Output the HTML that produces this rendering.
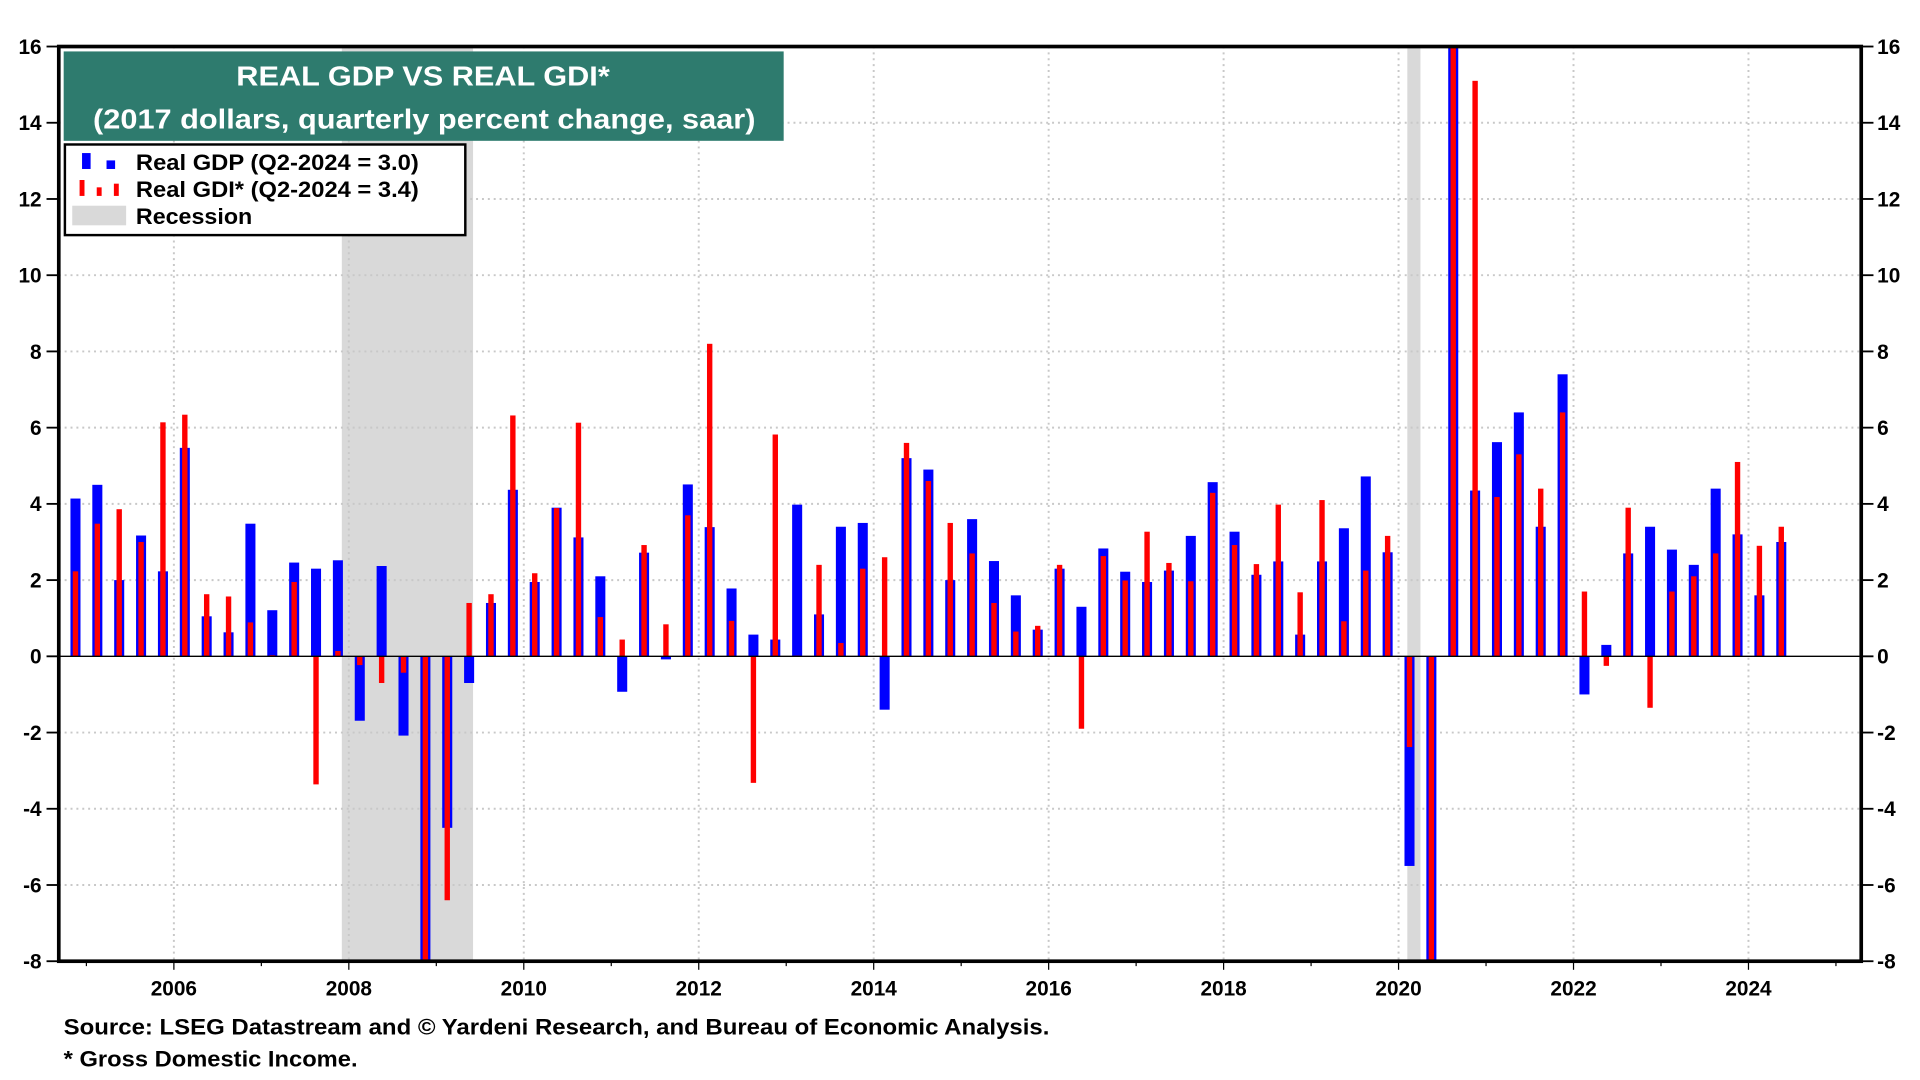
<!DOCTYPE html>
<html><head><meta charset="utf-8"><title>Real GDP vs Real GDI</title>
<style>
html,body{margin:0;padding:0;background:#fff;width:1920px;height:1080px;overflow:hidden;}
svg{display:block;font-family:"Liberation Sans",Arial,sans-serif;font-weight:bold;}
</style></head>
<body>
<svg id="chart" width="1920" height="1080" viewBox="0 0 1568 882" xmlns="http://www.w3.org/2000/svg">
<g id="bg"></g>
<g id="grid"></g>
<g id="bars" clip-path="url(#clip)"></g>
<defs><clipPath id="clip"><rect x="48" y="38" width="1472" height="747"/></clipPath></defs>
<g id="axes"></g>
<g>
<rect x="52" y="42" width="588" height="73" fill="#2e7b6e"/>
<text x="193" y="70" font-size="23" fill="#fff" textLength="305" lengthAdjust="spacingAndGlyphs">REAL GDP VS REAL GDI*</text>
<text x="76" y="105" font-size="23" fill="#fff" textLength="541" lengthAdjust="spacingAndGlyphs">(2017 dollars, quarterly percent change, saar)</text>
</g>
<g>
<rect x="53" y="118" width="327" height="74" fill="#fff" stroke="#000" stroke-width="2"/>
<g>
<rect x="67" y="125" width="7" height="13" fill="#0000ff"/><rect x="87" y="131" width="7" height="7" fill="#0000ff"/>
<text x="111" y="139" font-size="18" fill="#000" textLength="231" lengthAdjust="spacingAndGlyphs">Real GDP (Q2-2024 = 3.0)</text></g>
<g>
<rect x="65" y="147" width="4" height="13" fill="#ff0000"/><rect x="79" y="153" width="4" height="7" fill="#ff0000"/><rect x="93" y="150" width="4" height="10" fill="#ff0000"/>
<text x="111" y="161" font-size="18" fill="#000" textLength="231" lengthAdjust="spacingAndGlyphs">Real GDI* (Q2-2024 = 3.4)</text></g>
<g>
<rect x="59" y="168" width="44" height="16" fill="#d9d9d9"/>
<text x="111" y="183" font-size="18" fill="#000" textLength="95" lengthAdjust="spacingAndGlyphs">Recession</text></g>
</g>
<text x="52" y="845" font-size="18" fill="#000" textLength="805" lengthAdjust="spacingAndGlyphs">Source: LSEG Datastream and © Yardeni Research, and Bureau of Economic Analysis.</text>
<text x="52" y="871" font-size="18" fill="#000" textLength="240" lengthAdjust="spacingAndGlyphs">* Gross Domestic Income.</text>
</svg>
<script>
const startYear = 2004, startQuarter = 4;
const gdp = [4.14,4.5,2.0,3.17,2.23,5.47,1.05,0.63,3.48,1.21,2.46,2.3,2.52,-1.69,2.37,-2.08,-8.5,-4.5,-0.7,1.4,4.37,1.95,3.9,3.12,2.1,-0.93,2.72,-0.08,4.51,3.39,1.78,0.57,0.44,3.98,1.1,3.4,3.5,-1.4,5.2,4.9,2.0,3.6,2.5,1.6,0.7,2.3,1.3,2.83,2.22,1.95,2.25,3.16,4.57,3.27,2.14,2.49,0.57,2.49,3.36,4.72,2.73,-5.5,-28.0,35.0,4.35,5.62,6.4,3.4,7.4,-1.0,0.3,2.7,3.4,2.8,2.4,4.4,3.2,1.6,3.0];
const gdi = [2.23,3.48,3.86,3.0,6.14,6.34,1.63,1.57,0.89,0.03,1.95,-3.36,0.14,-0.23,-0.7,-0.43,-8.3,-6.4,1.4,1.63,6.32,2.18,3.89,6.13,1.03,0.44,2.92,0.84,3.7,8.2,0.93,-3.32,5.82,0.02,2.4,0.35,2.3,2.6,5.6,4.6,3.5,2.7,1.4,0.65,0.8,2.4,-1.9,2.63,1.99,3.27,2.45,1.97,4.29,2.92,2.42,3.98,1.68,4.1,0.92,2.25,3.16,-2.38,-28.0,30.0,15.1,4.18,5.3,4.4,6.4,1.7,-0.25,3.9,-1.35,1.7,2.1,2.7,5.1,2.9,3.4];
const yTicks = [16,14,12,10,8,6,4,2,0,-2,-4,-6,-8];
const xTicks = [2006,2008,2010,2012,2014,2016,2018,2020,2022,2024];
const recessions = [[2007.92,2009.42],[2020.1,2020.25]];

const NS = "http://www.w3.org/2000/svg";
const L=48,R=1520,T=38,B=785;
const xS = t => 142 + (t-2006)*71.44;
const yS = v => T + (16-v)*(B-T)/24;
const yC = v => yS(Math.max(-8, Math.min(16, v)));
function mk(tag, attrs, parent){const e=document.createElementNS(NS,tag);for(const k in attrs)e.setAttribute(k,attrs[k]);parent.appendChild(e);return e;}
const bg=document.getElementById('bg'),grid=document.getElementById('grid'),bars=document.getElementById('bars'),axes=document.getElementById('axes');

recessions.forEach(r=>{
  const e=mk('rect',{x:xS(r[0]),y:T,width:xS(r[1])-xS(r[0]),height:B-T,fill:'#d9d9d9'},bg);
  
  
});
yTicks.forEach(v=>{
  if(v!==0&&v!==16&&v!==-8){const g=mk('line',{x1:L,x2:R,y1:yS(v),y2:yS(v),stroke:'#c8c8c8','stroke-width':1.6,'stroke-dasharray':'1.6 3.2'},grid);
  
  }
  const t1=mk('text',{x:34,y:yS(v)+6,'text-anchor':'end','font-size':17,fill:'#000'},axes);t1.textContent=v;
  
  
  const t2=mk('text',{x:1533,y:yS(v)+6,'text-anchor':'start','font-size':17,fill:'#000'},axes);t2.textContent=v;
  
  
  mk('line',{x1:38,x2:L,y1:yS(v),y2:yS(v),stroke:'#000','stroke-width':1.5},axes);
  mk('line',{x1:R,x2:1530,y1:yS(v),y2:yS(v),stroke:'#000','stroke-width':1.5},axes);
});
xTicks.forEach(yr=>{
  const g=mk('line',{x1:xS(yr),x2:xS(yr),y1:T,y2:B,stroke:'#c8c8c8','stroke-width':1.6,'stroke-dasharray':'1.6 3.2'},grid);
  
  
  const t=mk('text',{x:xS(yr),y:813,'text-anchor':'middle','font-size':17,fill:'#000'},axes);t.textContent=yr;
  
  
});
for(let y=2005;y<=2025;y++){mk('line',{x1:xS(y),x2:xS(y),y1:B,y2:B+(y%2===0?7:4),stroke:'#000','stroke-width':1},axes);}
const z=yS(0);
gdp.forEach((v,i)=>{
  const q=startQuarter-1+i, yr=startYear+Math.floor(q/4), qq=q%4;
  const cx=xS(yr+qq/4+0.125);
  const b=mk('rect',{x:cx-4.1,y:Math.min(z,yC(v)),width:8.2,height:Math.abs(yC(v)-z),fill:'#0000ff'},bars);
  
  
  const w=gdi[i];
  const r=mk('rect',{x:cx-2.2,y:Math.min(z,yC(w)),width:4.4,height:Math.abs(yC(w)-z),fill:'#ff0000'},bars);
  
  
});
mk('line',{x1:L,x2:R,y1:z,y2:z,stroke:'#000','stroke-width':1.2},axes);
const fr=mk('rect',{x:L,y:T,width:R-L,height:B-T,fill:'none',stroke:'#000','stroke-width':3},axes);


</script>
</body></html>
